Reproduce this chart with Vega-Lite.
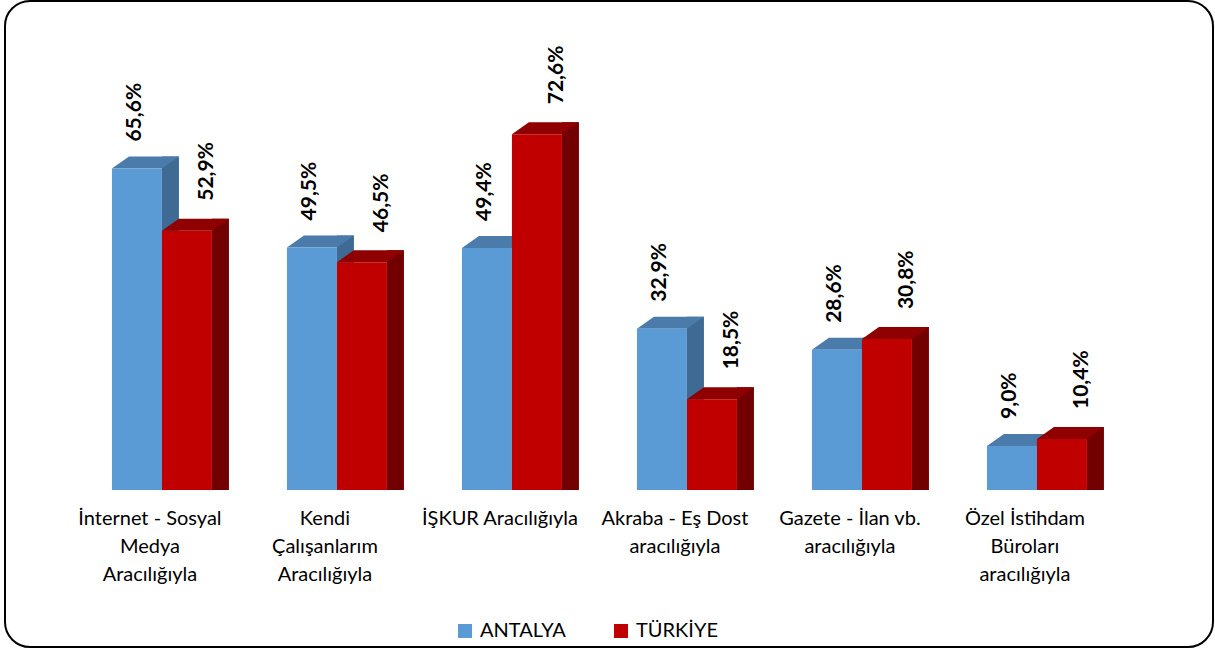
{
  "$schema": "https://vega.github.io/schema/vega-lite/v6.json",
  "width": 1208,
  "height": 646,
  "autosize": {"type": "none"},
  "padding": {"left": 5, "top": 1, "right": 2, "bottom": 5},
  "background": "white",
  "config": {
    "view": {"stroke": "#000000", "strokeWidth": 2, "cornerRadius": 25, "fill": "white"},
    "font": "Lato",
    "axis": {"grid": false}
  },
  "data": {
    "values": [
      {"cat": "İnternet - Sosyal|Medya|Aracılığıyla", "series": "ANTALYA", "value": 65.6, "label": "65,6%"},
      {"cat": "İnternet - Sosyal|Medya|Aracılığıyla", "series": "TÜRKİYE", "value": 52.9, "label": "52,9%"},
      {"cat": "Kendi|Çalışanlarım|Aracılığıyla", "series": "ANTALYA", "value": 49.5, "label": "49,5%"},
      {"cat": "Kendi|Çalışanlarım|Aracılığıyla", "series": "TÜRKİYE", "value": 46.5, "label": "46,5%"},
      {"cat": "İŞKUR Aracılığıyla", "series": "ANTALYA", "value": 49.4, "label": "49,4%"},
      {"cat": "İŞKUR Aracılığıyla", "series": "TÜRKİYE", "value": 72.6, "label": "72,6%"},
      {"cat": "Akraba - Eş Dost|aracılığıyla", "series": "ANTALYA", "value": 32.9, "label": "32,9%"},
      {"cat": "Akraba - Eş Dost|aracılığıyla", "series": "TÜRKİYE", "value": 18.5, "label": "18,5%"},
      {"cat": "Gazete - İlan vb.|aracılığıyla", "series": "ANTALYA", "value": 28.6, "label": "28,6%"},
      {"cat": "Gazete - İlan vb.|aracılığıyla", "series": "TÜRKİYE", "value": 30.8, "label": "30,8%"},
      {"cat": "Özel İstihdam|Büroları|aracılığıyla", "series": "ANTALYA", "value": 9.0, "label": "9,0%"},
      {"cat": "Özel İstihdam|Büroları|aracılığıyla", "series": "TÜRKİYE", "value": 10.4, "label": "10,4%"}
    ]
  },
  "encoding": {
    "x": {
      "field": "cat", "type": "nominal", "sort": null,
      "scale": {"paddingInner": 0.42857, "paddingOuter": 0.6657, "align": 0.459},
      "axis": {
        "title": null, "orient": "bottom", "offset": -139, "domain": false, "ticks": false,
        "labelAngle": 0, "labelExpr": "split(datum.label, '|')", "labelFont": "Lato",
        "labelFontSize": 20, "labelColor": "#000000", "labelLineHeight": 28,
        "labelPadding": 0, "labelLimit": 250, "labelOffset": -12
      }
    },
    "y": {
      "field": "value", "type": "quantitative", "stack": null,
      "scale": {"domain": [-32.04, 99.8], "nice": false, "zero": false},
      "axis": null
    }
  },
  "layer": [
    {
      "transform": [{"filter": "datum.series == 'ANTALYA'"}],
      "mark": {"type": "bar", "width": 17, "xOffset": 8.5, "yOffset": -12, "y2Offset": -12, "color": "#3e6a93"}
    },
    {
      "transform": [{"filter": "datum.series == 'ANTALYA'"}],
      "mark": {"type": "point", "shape": "M25,-12L25,0L42,-12Z", "size": 4, "filled": true, "opacity": 1, "strokeWidth": 0, "color": "#3e6a93", "xOffset": -25},
      "encoding": {"y": {"datum": 0}}
    },
    {
      "transform": [{"filter": "datum.series == 'ANTALYA'"}],
      "mark": {"type": "point", "shape": "M-25,0L-8,-12L42,-12L25,0Z", "size": 4, "filled": true, "opacity": 1, "strokeWidth": 0, "color": "#4a7bab", "xOffset": -25}
    },
    {
      "transform": [{"filter": "datum.series == 'ANTALYA'"}],
      "mark": {"type": "bar", "width": 50, "xOffset": -25},
      "encoding": {
        "color": {
          "field": "series", "type": "nominal",
          "scale": {"domain": ["ANTALYA", "TÜRKİYE"], "range": ["#5b9bd5", "#c00000"]},
          "legend": {
            "title": null, "orient": "none", "legendX": 450, "legendY": 620, "direction": "horizontal",
            "symbolType": "square", "symbolSize": 196, "symbolStrokeWidth": 0, "labelFont": "Lato",
            "labelFontSize": 20, "labelColor": "#000000", "labelOffset": 5, "columnPadding": 45
          }
        }
      }
    },
    {
      "transform": [{"filter": "datum.series == 'TÜRKİYE'"}],
      "mark": {"type": "bar", "width": 17, "xOffset": 58.5, "yOffset": -12, "y2Offset": -12, "color": "#720000"}
    },
    {
      "transform": [{"filter": "datum.series == 'TÜRKİYE'"}],
      "mark": {"type": "point", "shape": "M25,-12L25,0L42,-12Z", "size": 4, "filled": true, "opacity": 1, "strokeWidth": 0, "color": "#720000", "xOffset": 25},
      "encoding": {"y": {"datum": 0}}
    },
    {
      "transform": [{"filter": "datum.series == 'TÜRKİYE'"}],
      "mark": {"type": "point", "shape": "M-25,0L-8,-12L42,-12L25,0Z", "size": 4, "filled": true, "opacity": 1, "strokeWidth": 0, "color": "#8f0000", "xOffset": 25}
    },
    {
      "transform": [{"filter": "datum.series == 'TÜRKİYE'"}],
      "mark": {"type": "bar", "width": 50, "xOffset": 25},
      "encoding": {
        "color": {"field": "series", "type": "nominal"}
      }
    },
    {
      "transform": [{"filter": "datum.series == 'ANTALYA'"}],
      "mark": {"type": "text", "angle": 270, "align": "left", "baseline": "middle", "dx": 27, "dy": -2, "xOffset": -25, "font": "Lato", "fontSize": 21, "fontWeight": "bold", "color": "#000000"},
      "encoding": {"text": {"field": "label"}}
    },
    {
      "transform": [{"filter": "datum.series == 'TÜRKİYE'"}],
      "mark": {"type": "text", "angle": 270, "align": "left", "baseline": "middle", "dx": 30, "dy": 20, "xOffset": 25, "font": "Lato", "fontSize": 21, "fontWeight": "bold", "color": "#000000"},
      "encoding": {"text": {"field": "label"}}
    }
  ]
}
